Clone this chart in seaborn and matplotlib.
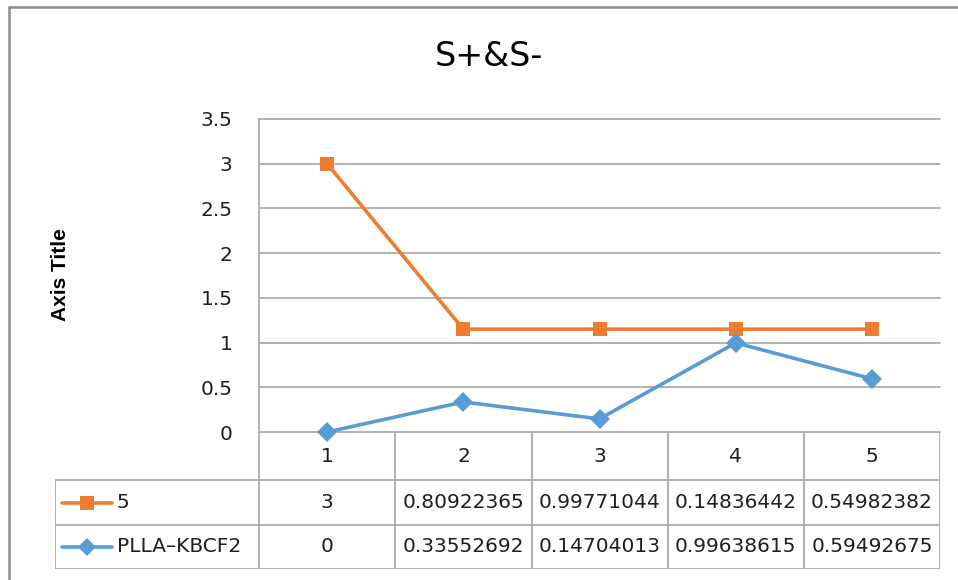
import matplotlib
matplotlib.use("Agg")
import matplotlib.pyplot as plt
from matplotlib.lines import Line2D
import seaborn as sns
import pandas as pd

# ---- data ----
categories = [1, 2, 3, 4, 5]
series_names = ["5", "PLLA\u2013KBCF2"]
orange_plotted = [3, 1.15, 1.15, 1.15, 1.15]
blue_plotted = [0, 0.33552692, 0.14704013, 0.99638615, 0.59492675]
orange_table = ["3", "0.80922365", "0.99771044", "0.14836442", "0.54982382"]
blue_table = ["0", "0.33552692", "0.14704013", "0.99638615", "0.59492675"]
y_ticks = [0, 0.5, 1, 1.5, 2, 2.5, 3, 3.5]
y_tick_labels = ["0", "0.5", "1", "1.5", "2", "2.5", "3", "3.5"]
title = "S+&S-"
y_label = "Axis Title"

ORANGE = "#ED7D31"
BLUE = "#5B9BD5"
GRID = "#a6a6a6"
TXT = "#1f1f1f"
FS = 14.5

sns.set_theme(style="white")
plt.rcParams["font.family"] = ["DejaVu Sans"]

W, H = 958, 580
fig = plt.figure(figsize=(W / 100, H / 100), dpi=100)

def px_rect(x0, y0, x1, y1):
    return [x0 / W, 1 - y1 / H, (x1 - x0) / W, (y1 - y0) / H]

# ---- main plot ----
ax = fig.add_axes(px_rect(259, 119, 940, 432))
df = pd.DataFrame({
    "x": categories * 2,
    "y": orange_plotted + blue_plotted,
    "s": [series_names[0]] * 5 + [series_names[1]] * 5,
})
sns.lineplot(data=df, x="x", y="y", hue="s", style="s",
             palette={series_names[0]: ORANGE, series_names[1]: BLUE},
             markers={series_names[0]: "s", series_names[1]: "D"},
             dashes=False, linewidth=2.6, markersize=10.5, markeredgewidth=0,
             legend=False, ax=ax, zorder=3)
ax.set_xlim(0.5, 5.5)
ax.set_ylim(0, 3.5)
ax.set_yticks(y_ticks)
ax.set_yticklabels(y_tick_labels, fontsize=FS, color=TXT)
ax.set_xticks([])
ax.set_xlabel("")
ax.set_ylabel("")
ax.tick_params(axis="y", length=0, pad=19)
for yv in y_ticks:
    ax.axhline(yv, color=GRID, lw=1.2, zorder=0)
for s in ["top", "right", "bottom"]:
    ax.spines[s].set_visible(False)
ax.spines["left"].set_color(GRID)
ax.spines["left"].set_linewidth(1.2)
ax.set_facecolor("none")
for ln in ax.lines:
    ln.set_clip_on(False)

# ---- title & axis title ----
fig.text(489 / W, 1 - 57 / H, title, ha="center", va="center",
         fontsize=24, color="black")
fig.text(61 / W, 1 - 275 / H, y_label, ha="center", va="center",
         rotation=90, fontsize=15, fontweight="bold",
         family=["Liberation Sans", "DejaVu Sans"], color="black")

# ---- data table (y in pixel rows) ----
tx = fig.add_axes(px_rect(55, 432, 940, 569))
tx.set_xlim(-1.0, 5.5)
tx.set_ylim(569, 432)
tx.axis("off")
row_edges = [432, 480, 525, 569]
row_mid = [456, 503, 547]
lc = dict(color=GRID, lw=1.2, solid_capstyle="butt")
for xv in [0.5, 1.5, 2.5, 3.5, 4.5, 5.5]:
    tx.plot([xv, xv], [row_edges[0], row_edges[3]], **lc)
tx.plot([-1.0, -1.0], [row_edges[1], row_edges[3]], **lc)
for yv in row_edges[1:]:
    tx.plot([-1.0, 5.5], [yv, yv], **lc)
for c in categories:
    tx.text(c, row_mid[0], str(c), ha="center", va="center", fontsize=FS, color=TXT)
for c, v in zip(categories, orange_table):
    tx.text(c, row_mid[1], v, ha="center", va="center", fontsize=FS, color=TXT)
for c, v in zip(categories, blue_table):
    tx.text(c, row_mid[2], v, ha="center", va="center", fontsize=FS, color=TXT)
# legend keys
tx.plot([-0.95, -0.58], [row_mid[1], row_mid[1]], color=ORANGE, lw=2.6)
tx.plot([-0.765], [row_mid[1]], marker="s", color=ORANGE, ms=10.5, mew=0)
tx.text(-0.545, row_mid[1], series_names[0], ha="left", va="center", fontsize=FS, color=TXT)
tx.plot([-0.95, -0.58], [row_mid[2], row_mid[2]], color=BLUE, lw=2.6)
tx.plot([-0.765], [row_mid[2]], marker="D", color=BLUE, ms=9, mew=0)
tx.text(-0.545, row_mid[2], series_names[1], ha="left", va="center", fontsize=FS, color=TXT)

# ---- outer chart frame (partially cropped) ----
fig.add_artist(Line2D([8.5 / W, 1.0], [1 - 6.5 / H, 1 - 6.5 / H], color="#8c8c8c", lw=1.8,
                      transform=fig.transFigure))
fig.add_artist(Line2D([8.5 / W, 8.5 / W], [0, 1 - 6.5 / H], color="#8c8c8c", lw=1.8,
                      transform=fig.transFigure))

fig.savefig("out.png", dpi=100, facecolor="white")
